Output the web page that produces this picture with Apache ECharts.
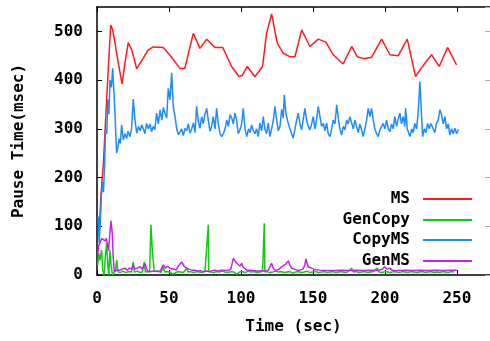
<!DOCTYPE html>
<html>
<head>
<meta charset="utf-8">
<script src="https://cdn.jsdelivr.net/npm/echarts@6/dist/echarts.min.js"></script>
<style>
  html, body { margin: 0; padding: 0; background: #fff; }
  #chart { width: 490px; height: 341px; }
</style>
</head>
<body>
<div id="chart"></div>
<script>
// values: time (sec) and pause time (msec)
const xTicks = [0, 50, 100, 150, 200, 250];
const yTicks = [0, 100, 200, 300, 400, 500];

const msT = [1.5, 2.5, 3.5, 4.4, 5.5, 6.7, 7.9, 9.5, 10.9, 12.5, 14.8, 17.4, 19.4, 21.7, 24.1, 27.6, 31, 35.6, 39.1, 46, 51, 57.6, 61, 66.9, 71.5, 76.2, 81.9, 87.3, 93.5, 98.8, 101, 104.4, 109.7, 115, 117.8, 121.3, 125.2, 129.4, 134, 137.5, 142.2, 147.9, 153.7, 159, 164.1, 171, 176.9, 180.8, 185.4, 190.8, 197.7, 203.5, 209.3, 215.5, 221.3, 226.1, 232.4, 237.7, 243.5, 249.8];
const msV = [85, 150, 195, 226, 291, 359, 427, 513, 503, 476, 435, 392, 435, 477, 462, 423, 440, 462, 468, 467, 450, 424, 424, 496, 465, 484, 467, 467, 428, 407, 410, 428, 407, 428, 496, 536, 476, 455, 448, 448, 503, 469, 484, 478, 452, 433, 469, 448, 444, 447, 484, 452, 450, 484, 407, 428, 452, 428, 467, 431];

const copyT = [0.8, 1.5, 2.3, 3, 3.8, 4.5, 5.3, 6, 6.8, 7.5, 8.3, 9, 10, 10.9, 11.7, 12.5, 13.6, 14.5, 15.4, 16.2, 17.1, 18.3, 19.4, 20.6, 21.5, 22.9, 24, 25.2, 26.3, 27.6, 28.8, 30, 31, 32.2, 33.3, 34.4, 35.6, 36.8, 37.9, 39.1, 40.2, 41.4, 42.6, 43.8, 45, 46.1, 47.2, 48.4, 49.5, 50.7, 51.9, 53, 54.2, 55.4, 56.5, 57.6, 58.8, 60, 61.1, 62.3, 63.4, 64.6, 65.8, 67, 68.1, 69.2, 70.4, 71.5, 72.7, 73.8, 75, 76.2, 77.3, 78.5, 79.6, 80.8, 82, 83.1, 84.3, 85.4, 86.6, 87.8, 89, 90.1, 91.3, 92.4, 93.6, 94.7, 95.8, 97, 98.1, 99.3, 100.5, 101.6, 102.8, 104, 105.2, 106.3, 107.4, 108.6, 109.7, 110.9, 112, 113.2, 114.4, 115.5, 116.6, 117.8, 119, 120.1, 121.3, 122.5, 123.6, 124.8, 125.9, 127.1, 128.3, 129.4, 130.1, 131.3, 132.9, 134, 135.2, 136.3, 137.5, 138.7, 139.8, 141, 142.1, 143.3, 144.4, 145.6, 146.7, 147.9, 149.1, 150.2, 151.4, 152.5, 153.7, 154.9, 156, 157.2, 158.3, 159.5, 160.6, 161.8, 163, 164.1, 165.3, 166.5, 167.6, 168.7, 169.9, 171.1, 172.2, 173.4, 174.5, 175.7, 176.9, 178, 179.2, 180.3, 181.5, 182.6, 183.8, 184.9, 186.1, 187.3, 188.4, 189.6, 190.7, 191.9, 193, 194.2, 195.4, 196.5, 197.7, 198.8, 200, 201.2, 202.3, 203.5, 204.6, 205.8, 206.9, 208.1, 209.2, 210.4, 211.5, 212.7, 213.8, 214.4, 215.5, 216.7, 217.4, 218.6, 219.7, 220.8, 222, 223, 224.3, 225.4, 226.2, 227.4, 228.5, 229.7, 230.8, 232, 233.5, 234.7, 235.8, 237, 238.2, 239.3, 240.5, 241.7, 242.8, 244, 245.1, 246.3, 247.4, 248.6, 249.8, 251];
const copyV = [120, 65, 110, 160, 190, 170, 230, 300, 290, 360, 330, 400, 385, 424, 380, 330, 250, 262, 280, 270, 308, 277, 290, 280, 295, 284, 300, 361, 320, 291, 305, 296, 308, 300, 290, 311, 300, 310, 294, 305, 298, 332, 310, 339, 318, 344, 332, 322, 383, 360, 415, 345, 325, 300, 288, 284, 300, 286, 301, 296, 310, 291, 300, 312, 292, 346, 315, 301, 325, 310, 330, 342, 318, 295, 305, 325, 300, 342, 310, 290, 284, 290, 300, 318, 305, 329, 322, 310, 332, 318, 290, 298, 310, 342, 300, 284, 300, 292, 308, 296, 290, 300, 284, 312, 296, 325, 300, 290, 312, 284, 300, 318, 346, 318, 296, 305, 340, 322, 370, 330, 311, 300, 290, 281, 300, 318, 332, 310, 298, 320, 342, 318, 305, 298, 310, 325, 300, 318, 346, 325, 305, 311, 296, 312, 290, 284, 300, 318, 310, 349, 322, 300, 287, 305, 298, 318, 310, 325, 312, 300, 318, 305, 292, 310, 298, 284, 300, 318, 342, 325, 342, 318, 300, 290, 284, 298, 305, 311, 300, 318, 300, 294, 310, 300, 325, 305, 320, 332, 310, 325, 305, 342, 300, 290, 284, 300, 292, 311, 300, 330, 397, 330, 284, 300, 292, 311, 300, 311, 300, 292, 311, 318, 339, 330, 310, 325, 300, 310, 287, 300, 290, 301, 290, 299];

const genCopyT = [0.5, 1.2, 2, 3.2, 4, 5, 5.8, 6.7, 7.5, 8.2, 9, 9.8, 10.8, 12, 12.8, 13.7, 14.5, 16, 18, 20, 22, 24, 25.2, 26, 28, 30, 31.5, 32.8, 33.6, 35, 36.5, 37.5, 38.4, 39.1, 39.8, 41, 43, 44.5, 46, 47, 49, 51, 53, 54, 56, 58, 60, 62.3, 63.5, 65, 67, 69, 71, 73, 75, 77.3, 77.6, 79, 81, 83, 85, 87, 89, 91, 93, 95, 97, 99, 101, 103, 105, 107, 109, 111, 113, 115, 116.2, 116.6, 118, 120, 122, 124, 126, 128, 130, 132, 134, 136, 138, 140, 142, 144, 146, 148, 150, 152, 154, 156, 158, 160, 162, 164, 166, 168, 170, 172, 174, 176.9, 178, 180, 182, 184, 186, 188, 190, 192, 194.6, 196, 198, 200, 202, 204, 206, 208, 210, 212, 214, 216, 218, 220, 222, 224, 226, 228, 230, 232, 234, 236, 238, 240, 242, 244, 246, 248, 250];
const genCopyV = [20, 45, 30, 51, 10, 0, 40, 65, 20, 0, 51, 20, 0, 0, 8, 31, 7, 5, 8, 5, 7, 6, 27, 6, 8, 5, 6, 27, 6, 7, 6, 103, 51, 51, 7, 6, 8, 5, 17, 6, 7, 5, 2, 6, 7, 6, 5, 14, 6, 7, 5, 7, 6, 5, 7, 103, 7, 6, 5, 7, 6, 8, 6, 5, 7, 6, 2, 6, 7, 5, 8, 6, 7, 5, 6, 7, 106, 6, 7, 5, 6, 8, 6, 7, 5, 6, 7, 4, 6, 7, 5, 6, 8, 5, 6, 7, 5, 6, 7, 5, 6, 7, 5, 6, 7, 5, 6, 14, 6, 7, 5, 6, 7, 5, 6, 7, 14, 6, 5, 7, 6, 5, 7, 6, 5, 7, 6, 5, 7, 6, 5, 6, 7, 5, 6, 7, 5, 6, 5, 7, 6, 5, 7, 6];

const genMsT = [0.5, 1, 2.1, 3.3, 4.4, 5.5, 6.5, 7.4, 8, 8.8, 9.7, 10.6, 11.2, 12, 13.5, 14.8, 16, 17.5, 19.4, 21, 22.5, 24, 25.2, 26.5, 28, 29.9, 31.5, 33.3, 34.5, 35.6, 38, 40, 42, 43.8, 45, 46, 47.5, 49, 50.7, 52, 53.5, 55, 56.5, 58.8, 60.5, 62.3, 64, 66, 68, 70, 72, 73.8, 76, 78, 80, 81.9, 84, 86, 87.7, 89, 91, 93, 94.7, 95.8, 96.8, 98.1, 99.3, 100.5, 101.5, 102.8, 104, 106.3, 108.5, 110.9, 113, 115, 117, 119, 120.3, 121.3, 122.3, 123.6, 125, 126.5, 128.3, 129.5, 131, 132.9, 134, 135.2, 137, 139, 141, 143, 144.3, 145.1, 146.7, 148, 149.1, 150.5, 152, 154.9, 160, 165, 170, 175, 180, 185, 190, 195, 198, 200, 201.5, 203.5, 205, 210, 215, 220, 225, 230, 235, 240, 245, 250];
const genMsV = [40, 58, 58, 75, 73, 70, 75, 73, 50, 80, 111, 86, 40, 7, 10, 14, 10, 12, 14, 10, 14, 12, 21, 12, 14, 17, 12, 24, 12, 7, 7, 8, 7, 7, 15, 21, 14, 18, 14, 10, 12, 10, 18, 27, 18, 14, 12, 10, 10, 8, 9, 7, 8, 7, 9, 10, 8, 10, 10, 8, 9, 12, 34, 32, 25, 21, 18, 24, 16, 14, 10, 10, 9, 8, 8, 9, 8, 10, 14, 24, 15, 10, 10, 12, 17, 14, 22, 29, 20, 14, 12, 10, 10, 12, 20, 33, 17, 18, 14, 12, 11, 10, 9, 9, 10, 9, 10, 9, 10, 9, 12, 17, 12, 14, 10, 9, 10, 9, 10, 9, 10, 9, 10, 10];

const seriesNames = ['MS', 'GenCopy', 'CopyMS', 'GenMS'];
const seriesColors = ['#ff1a1a', '#14c814', '#1e8cff', '#c81ef0'];
const legendCenters = [199, 220, 240, 261];

const pairs = (t, v) => t.map((x, i) => [x, v[i]]);
const seriesData = [pairs(msT, msV), pairs(genCopyT, genCopyV), pairs(copyT, copyV), pairs(genMsT, genMsV)];

const font = '"DejaVu Sans Mono", "Liberation Mono", monospace';
const txt = { fontFamily: font, fontWeight: 'bold', fontSize: 16, color: '#000' };

const chart = echarts.init(document.getElementById('chart'));

const option = {
  animation: false,
  backgroundColor: '#fff',
  grid: { left: 97, right: 0, top: 7, bottom: 66, containLabel: false },
  legend: seriesNames.map((n, i) => ({
    data: [n],
    orient: 'vertical',
    align: 'right',
    right: 18,
    top: legendCenters[i] - 8,
    padding: 0,
    itemWidth: 49,
    itemHeight: 2,
    icon: 'rect',
    selectedMode: false,
    textStyle: Object.assign({}, txt, { lineHeight: 16, padding: [0, 8, 0, 0] })
  })),
  xAxis: [
    {
      type: 'value', position: 'bottom', min: 0, max: 273, interval: 50,
      name: 'Time (sec)', nameLocation: 'middle', nameGap: 44, nameTextStyle: txt,
      axisLine: { show: true, onZero: false, lineStyle: { color: '#000', width: 1.5 } },
      axisTick: { inside: true, length: 5, lineStyle: { color: '#000' } },
      axisLabel: Object.assign({ margin: 16, showMaxLabel: false,
        formatter: v => xTicks.includes(v) ? String(v) : '' }, txt),
      splitLine: { show: false }
    },
    {
      type: 'value', position: 'top', min: 0, max: 273, interval: 50,
      axisLine: { show: true, onZero: false, lineStyle: { color: '#000', width: 1.5 } },
      axisTick: { inside: true, length: 5, lineStyle: { color: '#000' } },
      axisLabel: { show: false },
      splitLine: { show: false }
    }
  ],
  yAxis: [
    {
      type: 'value', position: 'left', min: 0, max: 550, interval: 100,
      name: 'Pause Time(msec)', nameLocation: 'middle', nameGap: 70, nameRotate: 90, nameTextStyle: txt,
      axisLine: { show: true, onZero: false, lineStyle: { color: '#000', width: 1.5 } },
      axisTick: { inside: true, length: 5, lineStyle: { color: '#000' } },
      axisLabel: Object.assign({ margin: 14, showMaxLabel: false,
        formatter: v => yTicks.includes(v) ? String(v) : '' }, txt),
      splitLine: { show: false }
    },
    {
      type: 'value', position: 'right', min: 0, max: 550, interval: 100,
      axisLine: { show: false, onZero: false },
      axisTick: { show: true, inside: true, length: 5, lineStyle: { color: '#aaa' } },
      axisLabel: { show: false },
      splitLine: { show: false }
    }
  ],
  series: seriesNames.map((n, i) => ({
    name: n,
    type: 'line',
    xAxisIndex: 0,
    yAxisIndex: 0,
    data: seriesData[i],
    symbol: 'none',
    showSymbol: false,
    color: seriesColors[i],
    lineStyle: { width: 1.5, color: seriesColors[i] }
  }))
};

chart.setOption(option);
</script>
</body>
</html>
